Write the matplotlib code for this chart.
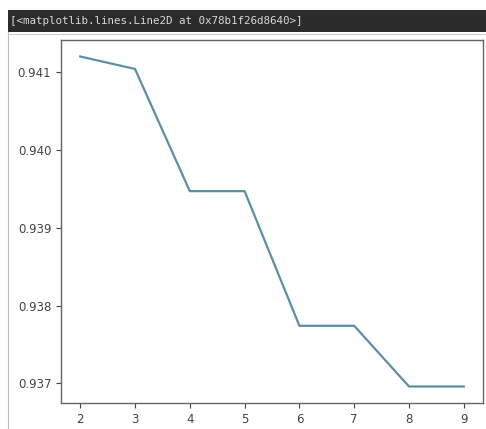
import matplotlib
matplotlib.use("Agg")
import matplotlib.pyplot as plt
from matplotlib.lines import Line2D

k_values = [2, 3, 4, 5, 6, 7, 8, 9]
scores = [0.94120, 0.94104, 0.93947, 0.93947, 0.93774, 0.93774, 0.93696, 0.93696]
header_text = "[<matplotlib.lines.Line2D at 0x78b1f26d8640>]"

W, H = 486, 429
fig = plt.figure(figsize=(W / 100, H / 100), dpi=100, facecolor="white")

# Jupyter-like output header bar
bar = plt.Rectangle((8 / W, 1 - 32 / H), 1 - 8 / W, 22 / H, transform=fig.transFigure,
                    facecolor="#2b2b2b", edgecolor="none")
fig.patches.append(bar)
fig.text(10 / W, 1 - 21 / H, header_text, color="#d8d8d8", family="DejaVu Sans Mono",
         fontsize=7.8, va="center", ha="left")
# faint frame lines
fig.add_artist(Line2D([8 / W, 8 / W], [0, 1 - 32 / H], transform=fig.transFigure,
                      color="#bbbbbb", lw=0.8))
fig.add_artist(Line2D([8 / W, 1], [1 - 34 / H, 1 - 34 / H], transform=fig.transFigure,
                      color="#cccccc", lw=0.8))

left, right, top, bottom = 61, 483, 40, 403
ax = fig.add_axes([left / W, 1 - bottom / H, (right - left) / W, (bottom - top) / H])
ax.plot(k_values, scores, color="#5b8fa3", lw=1.6)
ax.set_xticks(k_values)
ax.set_yticks([0.937, 0.938, 0.939, 0.940, 0.941])
ax.set_yticklabels(["0.937", "0.938", "0.939", "0.940", "0.941"])
ax.tick_params(labelsize=8.5, colors="#444444")
for s in ax.spines.values():
    s.set_color("#666666")
    s.set_linewidth(1.0)

fig.savefig("out.png", dpi=100, facecolor="white")
